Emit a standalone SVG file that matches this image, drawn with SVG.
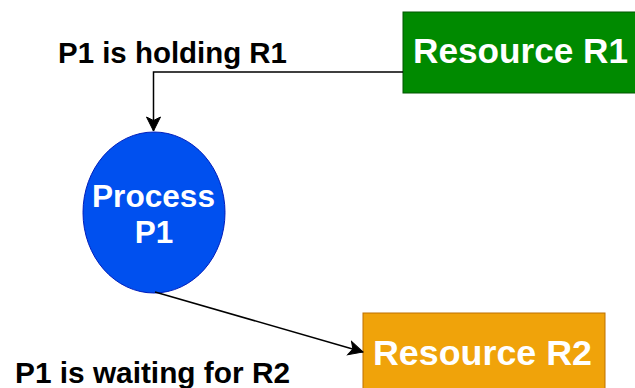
<svg xmlns="http://www.w3.org/2000/svg" width="635" height="388" viewBox="0 0 635 388">
  <style>
    .lbl { font-family: "Liberation Sans", Arial, sans-serif; font-weight: bold; fill: #000000; }
    .nodetxt { font-family: "Liberation Sans", Arial, sans-serif; font-weight: bold; fill: #ffffff; text-anchor: middle; }
    .edge { fill: none; stroke: #000000; stroke-width: 1.5; }
  </style>
  <defs>
    <marker id="arrow" markerUnits="userSpaceOnUse" markerWidth="16" markerHeight="16" viewBox="0 0 16 16" refX="15" refY="8" orient="auto">
      <path d="M1,1 L15,8 L1,15 L4.5,8 z" fill="#000000" stroke="#000000" stroke-width="1"/>
    </marker>
  </defs>
  <rect x="0" y="0" width="635" height="388" fill="#ffffff"/>

  <g id="label-holding">
    <text class="lbl" x="58" y="63" font-size="29" textLength="229" lengthAdjust="spacingAndGlyphs">P1 is holding R1</text>
  </g>
  <g id="label-waiting">
    <text class="lbl" x="15" y="383" font-size="29.5" textLength="275" lengthAdjust="spacingAndGlyphs">P1 is waiting for R2</text>
  </g>

  <g id="resource-r1">
    <rect x="403" y="12" width="236" height="81" fill="#008a00" stroke="#005700" stroke-width="1"/>
    <text class="nodetxt" x="520.5" y="63" font-size="35" textLength="215" lengthAdjust="spacingAndGlyphs">Resource R1</text>
  </g>

  <g id="process-p1">
    <ellipse cx="154" cy="212.5" rx="71" ry="80.5" fill="#0050ef" stroke="#001dbc" stroke-width="1"/>
    <text class="nodetxt" x="153.5" y="207" font-size="31.5" textLength="123" lengthAdjust="spacingAndGlyphs">Process</text>
    <text class="nodetxt" x="154" y="243" font-size="31.5">P1</text>
  </g>

  <g id="resource-r2">
    <rect x="363" y="313" width="242" height="80" fill="#f0a30a" stroke="#bd7000" stroke-width="1"/>
    <text class="nodetxt" x="482.5" y="365" font-size="35.5" textLength="219" lengthAdjust="spacingAndGlyphs">Resource R2</text>
  </g>

  <g id="connectors">
    <path class="edge" d="M403,72 L153.5,72 L153.5,131" marker-end="url(#arrow)"/>
    <path class="edge" d="M155,292 L363,352" marker-end="url(#arrow)"/>
  </g>
</svg>
